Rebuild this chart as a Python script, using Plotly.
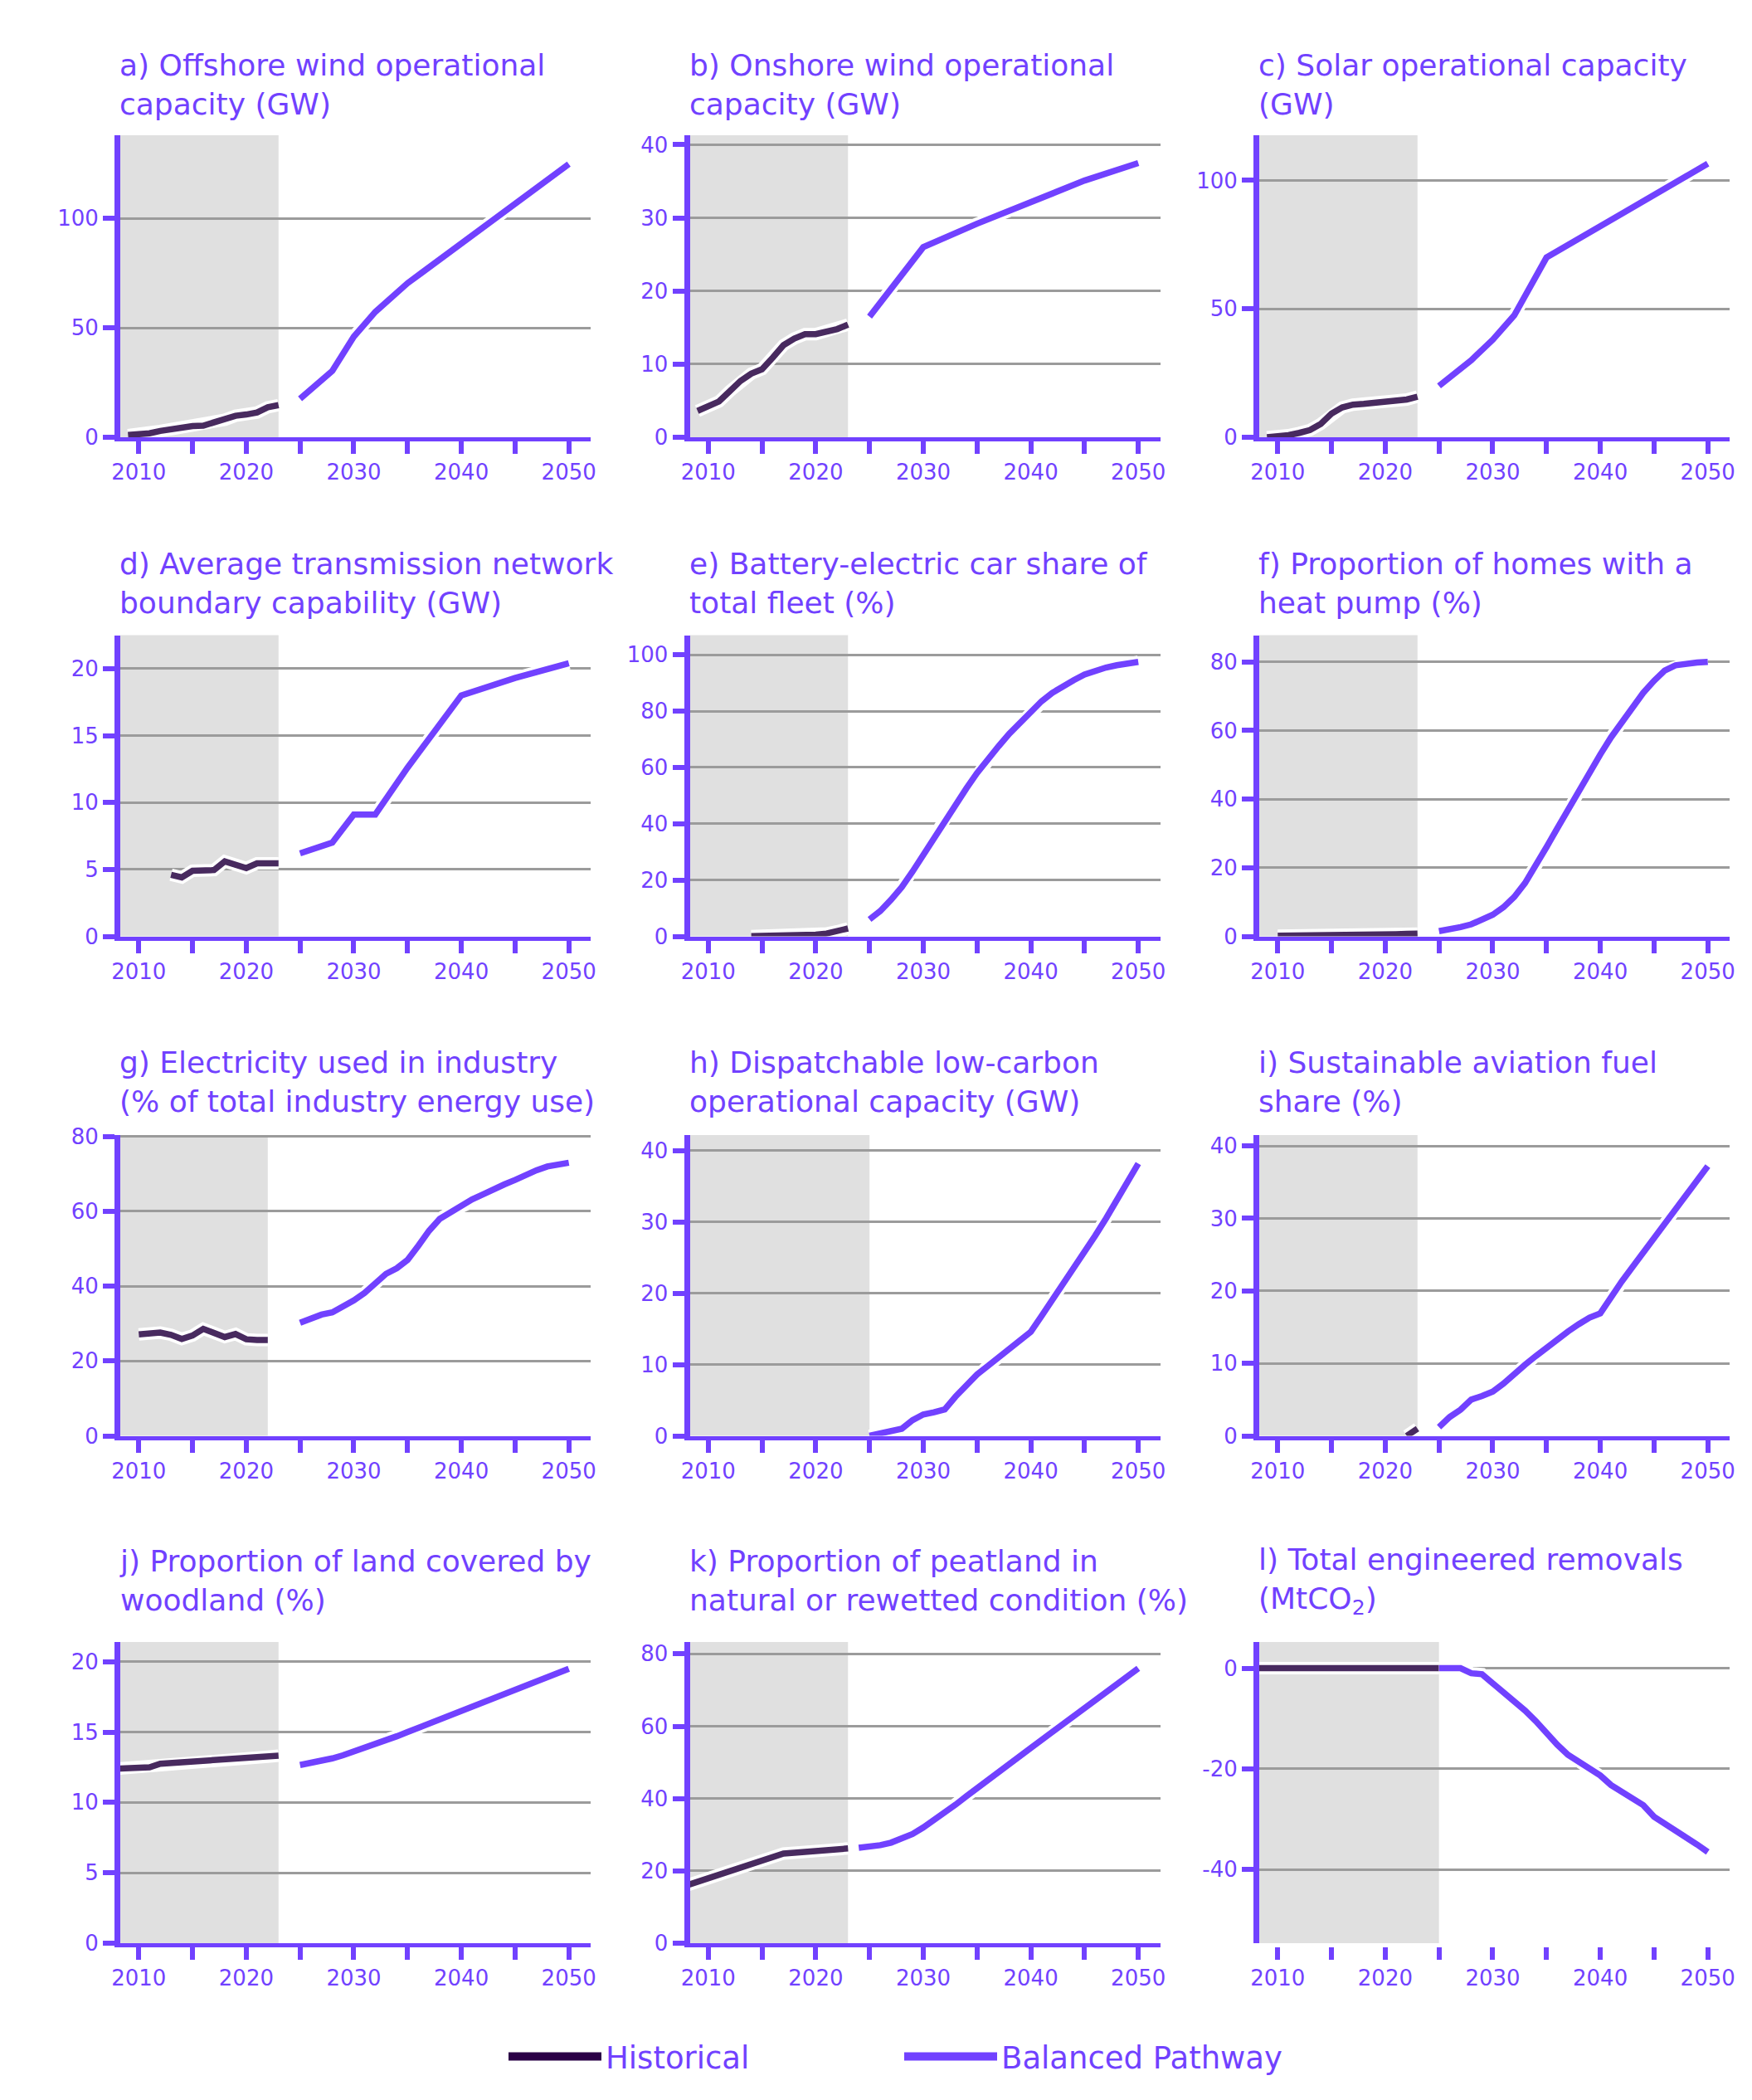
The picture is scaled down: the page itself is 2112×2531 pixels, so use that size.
import plotly.graph_objects as go

# ---------------------------------------------------------------------------
# Data
# ---------------------------------------------------------------------------
years_2025_2050 = list(range(2025, 2051))

# a) Offshore wind operational capacity (GW)
offshore_hist_years = list(range(2009, 2024))
offshore_hist = [1.0, 1.3, 1.8, 2.9, 3.7, 4.5, 5.1, 5.3, 6.8, 8.0, 9.8, 10.4, 11.3, 13.7, 14.7]
offshore_path_years = [2025, 2028, 2030, 2032, 2035, 2040, 2045, 2050]
offshore_path = [17.6, 30.3, 46.0, 57.3, 70.4, 88.5, 106.5, 124.8]

# b) Onshore wind operational capacity (GW)
onshore_hist_years = list(range(2009, 2024))
onshore_hist = [3.6, 4.2, 4.9, 6.3, 7.7, 8.7, 9.3, 10.9, 12.6, 13.5, 14.1, 14.1, 14.4, 14.8, 15.4]
onshore_path_years = [2025, 2030, 2035, 2040, 2045, 2050]
onshore_path = [16.5, 26.0, 29.2, 32.2, 35.1, 37.5]

# c) Solar operational capacity (GW)
solar_hist_years = list(range(2009, 2024))
solar_hist = [0.0, 0.1, 0.8, 1.7, 2.8, 5.2, 9.2, 11.6, 12.7, 13.0, 13.3, 13.6, 14.0, 14.7, 15.8]
solar_path_years = [2025, 2028, 2030, 2032, 2035, 2040, 2045, 2050]
solar_path = [20.0, 30.0, 38.0, 47.5, 70.0, 82.2, 94.4, 106.5]

# d) Average transmission network boundary capability (GW)
transmission_hist_years = list(range(2013, 2024))
transmission_hist = [4.6, 4.4, 4.9, 4.95, 4.95, 5.6, 5.35, 5.1, 5.45, 5.45, 5.45]
transmission_path_years = [2025, 2028, 2030, 2032, 2035, 2040, 2045, 2050]
transmission_path = [6.2, 7.0, 9.1, 9.1, 12.6, 18.0, 19.3, 20.4]

# e) Battery-electric car share of total fleet (%)
bev_hist_years = list(range(2014, 2024))
bev_hist = [0.05, 0.1, 0.15, 0.2, 0.3, 0.4, 0.6, 1.0, 1.8, 2.8]
bev_path = [6.0, 9.0, 13.0, 17.5, 23.0, 29.0, 35.5, 41.5, 47.0, 52.5, 58.0, 63.0, 67.5,
            72.0, 76.0, 80.0, 83.5, 86.5, 89.0, 91.0, 93.0, 94.5, 95.5, 96.3, 97.0, 97.5]

# f) Proportion of homes with a heat pump (%)
heatpump_hist_years = list(range(2010, 2024))
heatpump_hist = [0.2, 0.2, 0.2, 0.2, 0.2, 0.2, 0.25, 0.25, 0.3, 0.3, 0.4, 0.6, 0.7, 0.8]
heatpump_path = [1.5, 2.0, 2.7, 3.5, 4.7, 6.3, 8.5, 11.5, 15.5, 20.5, 26.0, 31.5, 37.0,
                 42.5, 48.0, 53.0, 58.0, 62.5, 67.0, 71.0, 74.5, 77.5, 79.0, 79.5, 79.8, 80.0]

# g) Electricity used in industry (% of total industry energy use)
industry_hist_years = list(range(2010, 2023))
industry_hist = [27.1, 27.5, 27.6, 27.0, 25.9, 26.8, 28.6, 27.5, 26.4, 27.2, 25.8, 25.6, 25.6]
industry_path = [30.2, 31.4, 32.4, 33.0, 34.5, 36.2, 38.2, 40.8, 43.3, 44.8, 47.0, 50.8, 54.8,
                 58.0, 59.8, 61.2, 63.2, 64.5, 66.0, 67.2, 68.4, 69.8, 71.0, 72.0, 72.5, 73.0]

# h) Dispatchable low-carbon operational capacity (GW)
dispatch_path = [0.0, 0.3, 0.6, 1.0, 2.2, 3.0, 3.3, 3.7, 5.5, 7.1, 8.6, 9.8, 11.0,
                 12.2, 13.4, 14.6, 16.8, 19.0, 21.2, 23.4, 25.7, 28.1, 30.5, 33.0, 35.6, 38.2]

# i) Sustainable aviation fuel share (%)
saf_hist_years = [2022, 2023]
saf_hist = [0.0, 1.0]
saf_path = [1.2, 2.6, 3.6, 5.0, 5.5, 6.1, 7.2, 8.6, 9.8, 11.0, 12.2, 13.3, 14.4,
            15.4, 16.3, 16.9, 19.3, 21.3, 23.3, 25.3, 27.3, 29.2, 31.2, 33.2, 35.2, 37.2]

# j) Proportion of land covered by woodland (%)
woodland_hist_years = list(range(2008, 2024))
woodland_hist = [12.4, 12.45, 12.5, 12.5, 12.75, 12.8, 12.85, 12.9, 12.9, 12.92, 13.0,
                 13.05, 13.15, 13.2, 13.25, 13.32]
woodland_path_years = [2025, 2026, 2027, 2028, 2029, 2030, 2031, 2032, 2033, 2034, 2035, 2040, 2045, 2050]
woodland_path = [12.66, 12.8, 12.95, 13.13, 13.35, 13.6, 13.85, 14.1, 14.4, 14.7, 15.0, 16.5, 18.0, 19.5]

# k) Proportion of peatland in natural or rewetted condition (%)
peat_hist_years = list(range(2008, 2024))
peat_hist = [16.0, 17.0, 18.0, 19.0, 20.0, 21.0, 22.0, 23.0, 23.9, 24.8, 25.0,
             25.3, 25.5, 25.7, 25.9, 26.2]
peat_path_years = [2024, 2025, 2026, 2027, 2028, 2029, 2030, 2031, 2032, 2033, 2034, 2035, 2040, 2045, 2050]
peat_path = [26.4, 26.6, 27.1, 27.8, 28.8, 30.2, 32.0, 34.0, 36.1, 38.3, 40.6, 42.9, 54.0, 65.0, 76.0]

# l) Total engineered removals (MtCO2)
removals_hist_years = [2008, 2009, 2010, 2011, 2012, 2013, 2014, 2015, 2016,
                       2017, 2018, 2019, 2020, 2021, 2022, 2023, 2024, 2025]
removals_hist = [0, 0, 0, 0, 0, 0, 0, 0, 0, 0, 0, 0, 0, 0, 0, 0, 0, 0]
removals_path = [0.0, 0.0, 0.0, -1.0, -1.2, -3.0, -4.7, -6.5, -8.4, -10.5, -13.0, -15.2, -17.2,
                 -18.5, -19.9, -21.3, -23.2, -24.5, -25.7, -27.2, -29.5, -30.8, -32.2, -33.6, -35.0, -36.5]

x_label_years = [2010, 2020, 2030, 2040, 2050]
x_minor_years = [2015, 2025, 2035, 2045]
removals_y_ticks = [0, -20, -40]
removals_y_labels = ["0", "-20", "-40"]

panels = [
    dict(title="a) Offshore wind operational<br>capacity (GW)",
         hist=(offshore_hist_years, offshore_hist), path=(offshore_path_years, offshore_path),
         yrange=[0, 138], dtick=50, shade_end=2023),
    dict(title="b) Onshore wind operational<br>capacity (GW)",
         hist=(onshore_hist_years, onshore_hist), path=(onshore_path_years, onshore_path),
         yrange=[0, 41.3], dtick=10, shade_end=2023),
    dict(title="c) Solar operational capacity<br>(GW)",
         hist=(solar_hist_years, solar_hist), path=(solar_path_years, solar_path),
         yrange=[0, 117.6], dtick=50, shade_end=2023),
    dict(title="d) Average transmission network<br>boundary capability (GW)",
         hist=(transmission_hist_years, transmission_hist), path=(transmission_path_years, transmission_path),
         yrange=[0, 22.5], dtick=5, shade_end=2023),
    dict(title="e) Battery-electric car share of<br>total fleet (%)",
         hist=(bev_hist_years, bev_hist), path=(years_2025_2050, bev_path),
         yrange=[0, 107], dtick=20, shade_end=2023),
    dict(title="f) Proportion of homes with a<br>heat pump (%)",
         hist=(heatpump_hist_years, heatpump_hist), path=(years_2025_2050, heatpump_path),
         yrange=[0, 87.8], dtick=20, shade_end=2023),
    dict(title="g) Electricity used in industry<br>(% of total industry energy use)",
         hist=(industry_hist_years, industry_hist), path=(years_2025_2050, industry_path),
         yrange=[0, 80.4], dtick=20, shade_end=2022),
    dict(title="h) Dispatchable low-carbon<br>operational capacity (GW)",
         hist=None, path=(years_2025_2050, dispatch_path),
         yrange=[0, 42.2], dtick=10, shade_end=2025),
    dict(title="i) Sustainable aviation fuel<br>share (%)",
         hist=(saf_hist_years, saf_hist), path=(years_2025_2050, saf_path),
         yrange=[0, 41.5], dtick=10, shade_end=2023),
    dict(title="j) Proportion of land covered by<br>woodland (%)",
         hist=(woodland_hist_years, woodland_hist), path=(woodland_path_years, woodland_path),
         yrange=[0, 21.4], dtick=5, shade_end=2023),
    dict(title="k) Proportion of peatland in<br>natural or rewetted condition (%)",
         hist=(peat_hist_years, peat_hist), path=(peat_path_years, peat_path),
         yrange=[0, 83.3], dtick=20, shade_end=2023),
    dict(title="l) Total engineered removals<br>(MtCO<sub>2</sub>)",
         hist=(removals_hist_years, removals_hist), path=(years_2025_2050, removals_path),
         yrange=[-54.6, 5.2], dtick=20, shade_end=2025),
]

# ---------------------------------------------------------------------------
# Styling / layout
# ---------------------------------------------------------------------------
# the page keeps the browser's 8px body margin, so the figure is sized to fit
# inside the 2112x2531 window and every position below is given in window pixels
PAGE_MARGIN = 8
W, H = 2112 - 2 * PAGE_MARGIN, 2531 - 2 * PAGE_MARGIN
PURPLE = "#7141FF"
HIST = "#482A5F"
HIST_LEGEND = "#2B0046"
SHADE = "#E0E0E0"
GRID = "#9B9B9B"
FONT = "DejaVu Sans"
X_RANGE = [2008.28, 2052.03]

col_left = [145, 831.5, 1518]
col_width = 567
row_box = [(163, 527), (765.5, 1128.5), (1368, 1730.5), (1979, 2342)]
title_center = [102, 703, 1304, 1905]


def px(v):
    return (v - PAGE_MARGIN) / W


def py(v):
    return 1 - (v - PAGE_MARGIN) / H


tick_style = dict(ticks="outside", tickcolor=PURPLE, tickwidth=6)
tick_font = dict(family=FONT, size=26, color=PURPLE)

fig = go.Figure()
annotations = []
shapes = []

for i, p in enumerate(panels):
    r, c = divmod(i, 3)
    n = "" if i == 0 else str(i + 1)
    xa, ya = "x" + n, "y" + n

    left = col_left[c]
    top, bottom = row_box[r]

    for series, color in ((p["hist"], HIST), (p["path"], PURPLE)):
        if series is None:
            continue
        xs, ys = series
        # white halo under every line
        fig.add_trace(go.Scatter(x=xs, y=ys, mode="lines", xaxis=xa, yaxis=ya,
                                 line=dict(color="white", width=15), showlegend=False,
                                 hoverinfo="skip"))
        fig.add_trace(go.Scatter(x=xs, y=ys, mode="lines", xaxis=xa, yaxis=ya,
                                 line=dict(color=color, width=7.5), showlegend=False))

    shapes.append(dict(type="rect", xref=xa, yref=ya + " domain", x0=X_RANGE[0], x1=p["shade_end"],
                       y0=0, y1=1, fillcolor=SHADE, line=dict(width=0), layer="below"))

    annotations.append(dict(text=p["title"], xref="paper", yref="paper", x=px(left - 3),
                            y=py(title_center[r]), xanchor="left", yanchor="middle",
                            align="left", showarrow=False,
                            font=dict(family=FONT, size=36, color=PURPLE)))

    fig.layout["xaxis" + n] = dict(
        domain=[px(left), px(left + col_width)], anchor=ya, range=X_RANGE,
        tickmode="array", tickvals=x_label_years, ticklen=15, **tick_style,
        minor=dict(tickvals=x_minor_years, ticklen=15, **tick_style, showgrid=False),
        showline=True, linecolor=PURPLE if i != 11 else "rgba(0,0,0,0)", linewidth=5,
        showgrid=False, zeroline=False, tickfont=tick_font, fixedrange=True, automargin=False,
    )
    yaxis = dict(
        domain=[py(bottom), py(top)], anchor=xa, range=p["yrange"],
        tick0=0, dtick=p["dtick"], ticklen=14, **tick_style,
        showline=True, linecolor=PURPLE, linewidth=7, showgrid=True, gridcolor=GRID,
        gridwidth=2.5, zeroline=False, tickfont=tick_font, fixedrange=True, automargin=False,
    )
    if i == 11:
        yaxis.update(tickmode="array", tickvals=removals_y_ticks, ticktext=removals_y_labels)
    fig.layout["yaxis" + n] = yaxis

# legend-only entries
fig.add_trace(go.Scatter(x=[None], y=[None], mode="lines", name="Historical",
                         line=dict(color=HIST_LEGEND, width=10)))
fig.add_trace(go.Scatter(x=[None], y=[None], mode="lines", name="Balanced Pathway",
                         line=dict(color=PURPLE, width=10)))

fig.update_layout(
    width=W, height=H,
    margin=dict(l=0, r=0, t=0, b=0, autoexpand=False),
    paper_bgcolor="white", plot_bgcolor="white",
    font=dict(family=FONT, color=PURPLE),
    annotations=annotations, shapes=shapes,
    showlegend=True,
    legend=dict(orientation="h", x=px(608), xanchor="left", y=py(2479), yanchor="middle",
                font=dict(family=FONT, size=37, color=PURPLE), entrywidth=350,
                itemwidth=112, bgcolor="rgba(0,0,0,0)"),
)

fig.write_html("out.html", config={"displayModeBar": False})
